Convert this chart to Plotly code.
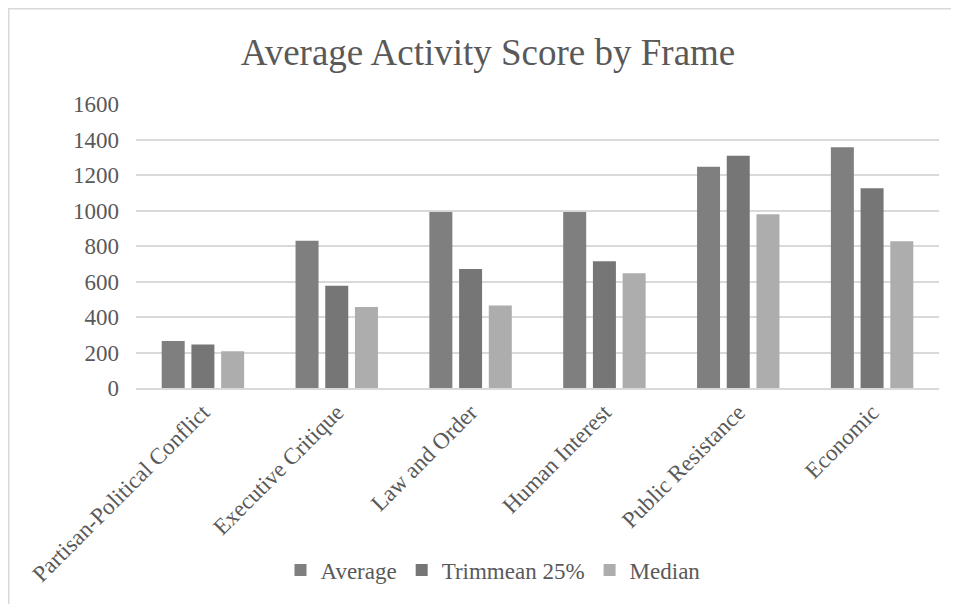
import plotly.graph_objects as go

categories = ["Partisan-Political Conflict", "Executive Critique", "Law and Order",
              "Human Interest", "Public Resistance", "Economic"]
average = [265, 830, 992, 992, 1246, 1357]
trimmean = [245, 576, 670, 714, 1308, 1126]
median = [207, 456, 465, 646, 979, 827]
y_ticks = [0, 200, 400, 600, 800, 1000, 1200, 1400, 1600]

FONT = "Liberation Serif, Times New Roman, serif"
TXT = "#595959"
FS = 23

fig = go.Figure()
fig.add_trace(go.Bar(name="Average", x=categories, y=average, marker_color="#7f7f7f",
                     marker_line_width=0))
fig.add_trace(go.Bar(name="Trimmean 25%", x=categories, y=trimmean, marker_color="#767676",
                     marker_line_width=0))
fig.add_trace(go.Bar(name="Median", x=categories, y=median, marker_color="#adadad",
                     marker_line_width=0))

# page body has an 8px margin; figure coords = screen coords - 8
W, H = 959, 604
L, T = 128, 96
R = W - 931
B = H - 380
pw, ph = W - L - R, H - T - B

fig.update_layout(
    width=W, height=H,
    margin=dict(l=L, r=R, t=T, b=B, autoexpand=False),
    paper_bgcolor="white", plot_bgcolor="white",
    barmode="group", bargap=0.334, bargroupgap=0.226,
    font=dict(family=FONT, color=TXT, size=FS),
    title=dict(text="Average Activity Score by Frame", x=(488 - 8) / W, xanchor="center",
               y=1 - 44 / H, yanchor="middle",
               font=dict(family=FONT, size=37, color=TXT)),
    legend=dict(orientation="h", x=(485 - L) / pw, xanchor="center", y=-(562 - 380) / ph,
                yanchor="middle", font=dict(family=FONT, size=FS, color=TXT),
                itemwidth=30, traceorder="normal"),
    xaxis=dict(tickangle=-45, showgrid=False, showline=True, linecolor="#d9d9d9",
               linewidth=1.5, ticks="", automargin=False,
               tickfont=dict(family=FONT, size=FS, color=TXT)),
    yaxis=dict(range=[0, 1600], tickvals=y_ticks, showgrid=True, gridcolor="#d9d9d9",
               gridwidth=1.5, zeroline=False, showline=False, ticks="", automargin=False,
               tickfont=dict(family=FONT, size=FS, color=TXT), ticklabelstandoff=16),
    shapes=[dict(type="rect", xref="paper", yref="paper",
                 x0=(0.75 - L) / pw, x1=(W + 10 - L) / pw,
                 y0=-(H + 10 - 380) / ph, y1=1 + (T - 0.75) / ph,
                 line=dict(color="#d9d9d9", width=1.5), fillcolor="rgba(0,0,0,0)",
                 layer="below")],
)

fig.write_html("out.html")
